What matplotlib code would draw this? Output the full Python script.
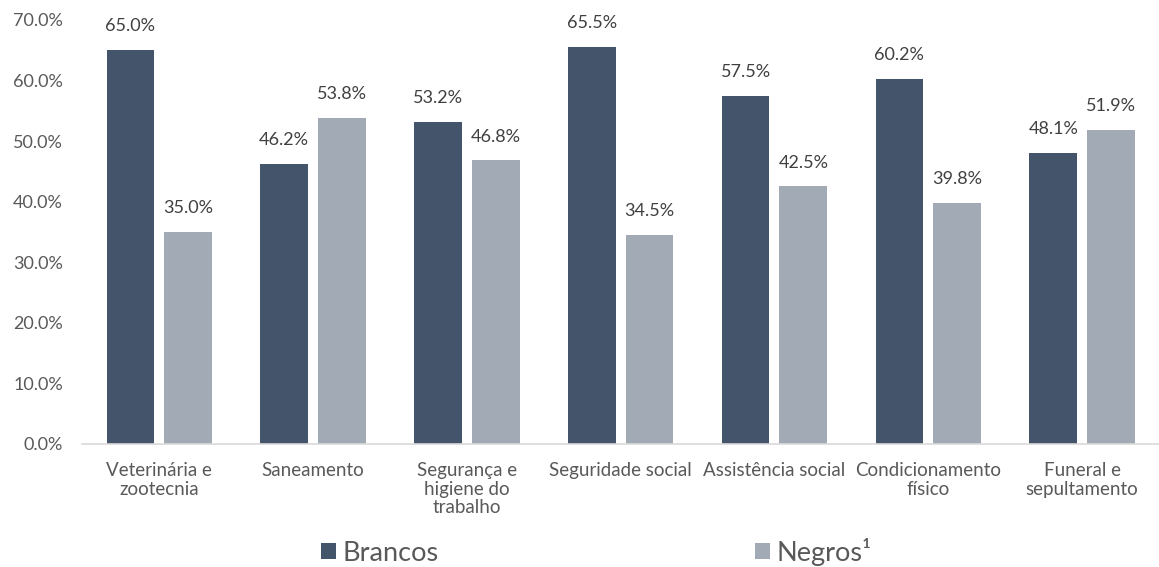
import numpy as np
import matplotlib
matplotlib.use("Agg")
import matplotlib.pyplot as plt
from matplotlib.ticker import FuncFormatter

plt.rcParams['font.family'] = ['Lato', 'DejaVu Sans']

categories = ["Veterinária e\nzootecnia", "Saneamento", "Segurança e\nhigiene do\ntrabalho",
              "Seguridade social", "Assistência social", "Condicionamento\nfísico",
              "Funeral e\nsepultamento"]
brancos = [65.0, 46.2, 53.2, 65.5, 57.5, 60.2, 48.1]
negros = [35.0, 53.8, 46.8, 34.5, 42.5, 39.8, 51.9]
series_names = ["Brancos", "Negros¹"]
colors = ["#44546A", "#A2AAB5"]

fig = plt.figure(figsize=(11.59, 5.67), dpi=100)
ax = fig.add_axes([0.071, 0.217, 0.929, 0.748])

x = np.arange(len(categories))
w = 0.31
gap = 0.065
b1 = ax.bar(x - w/2 - gap/2, brancos, w, color=colors[0], label=series_names[0])
b2 = ax.bar(x + w/2 + gap/2, negros, w, color=colors[1], label=series_names[1])

for bars, vals in ((b1, brancos), (b2, negros)):
    for r, v in zip(bars, vals):
        ax.text(r.get_x() + r.get_width()/2, v + 2.6, f"{v:.1f}%", ha="center", va="bottom",
                fontsize=13, color="#404040")

ax.set_ylim(0, 70)
ax.set_xlim(-0.5, len(categories) - 0.5)
ax.set_yticks(np.arange(0, 71, 10))
ax.yaxis.set_major_formatter(FuncFormatter(lambda v, p: f"{v:.1f}%"))
ax.set_xticks(x)
ax.set_xticklabels(categories, fontsize=13.5, color="#595959", linespacing=1.12)
ax.tick_params(axis="y", labelsize=13, labelcolor="#595959", length=0, pad=14)
ax.tick_params(axis="x", length=0, pad=13)
for s in ["top", "right", "left"]:
    ax.spines[s].set_visible(False)
ax.spines["bottom"].set_color("#D9D9D9")
ax.spines["bottom"].set_linewidth(1.2)

fig.legend(loc="center", bbox_to_anchor=(0.5145, 0.027), ncol=2, frameon=False,
           fontsize=19.5, labelcolor="#595959", handlelength=0.55, handleheight=0.55,
           handletextpad=0.25, columnspacing=11.7)

fig.savefig("out.png", dpi=100)
